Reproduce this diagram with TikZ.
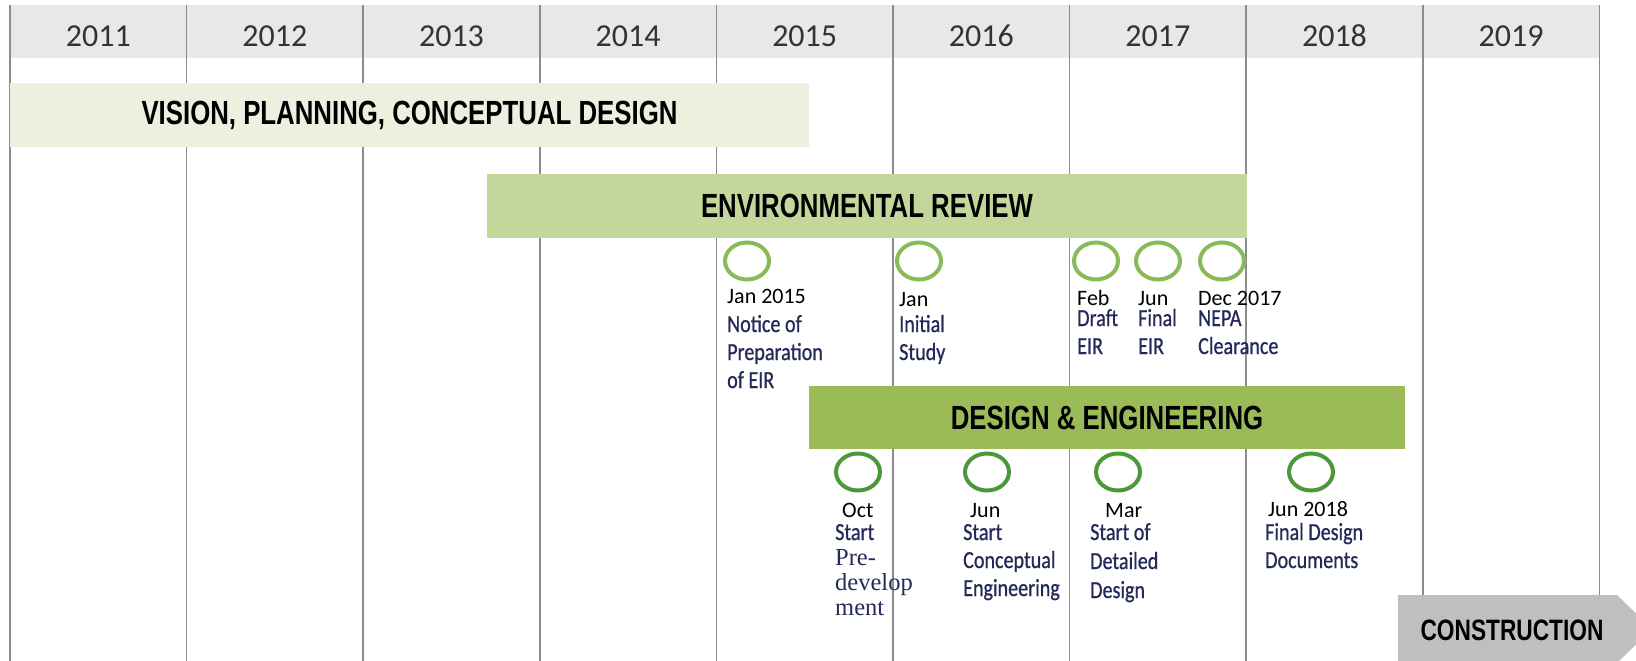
\documentclass[tikz,border=0pt]{standalone}
\usepackage{fontspec}
\setmainfont{Carlito}
\newfontfamily\yearfont{Carlito}
\newfontfamily\descfont{Carlito}[FakeStretch=0.82,FakeBold=0.8]
\newfontfamily\barfont{Liberation Sans}[FakeStretch=0.77]
\newfontfamily\serfont{Liberation Serif}
\usepackage{tikz}
\usetikzlibrary{positioning,shapes.geometric}
\definecolor{headgrey}{RGB}{231,232,234}
\definecolor{linegrey}{RGB}{140,140,140}
\definecolor{visiongreen}{RGB}{235,241,222}
\definecolor{envgreen}{RGB}{196,215,155}
\definecolor{designgreen}{RGB}{155,187,89}
\definecolor{ringlight}{RGB}{136,186,88}
\definecolor{ringdark}{RGB}{74,152,58}
\definecolor{descnavy}{RGB}{36,42,88}
\definecolor{constrgrey}{RGB}{191,191,191}

\begin{document}
\begin{tikzpicture}[
    x=1pt,
    y=-1pt,
    year/.style={
        inner sep=0pt,
        text=black!80,
        font=\yearfont\fontsize{32}{36}\selectfont
    },
    yearline/.style={
        linegrey,
        line width=1.5pt
    },
    phase/.style={
        inner sep=0pt,
        text=black,
        font=\barfont\bfseries\fontsize{33.5}{36}\selectfont
    },
    envmile/.style={
        ellipse,
        draw=ringlight,
        line width=4pt,
        minimum width=44pt,
        minimum height=37pt,
        inner sep=0pt
    },
    designmile/.style={
        envmile,
        draw=ringdark
    },
    datetext/.style={
        anchor=base west,
        inner sep=0pt,
        text=black,
        font=\fontsize{22}{26}\selectfont
    },
    % base of a multi-line text = baseline of its last line
    desctext/.style={
        anchor=base west,
        inner sep=0pt,
        align=left,
        text=descnavy,
        font=\descfont\fontsize{24.5}{28}\selectfont
    }
]

\useasboundingbox (0,0) rectangle (1636,661);

% ============================================================
% YEAR HEADER AND COLUMNS
% ============================================================

\fill[headgrey] (10,5) rectangle (1599,58);

\draw[yearline] (10,5)     -- (10,661);
\draw[yearline] (186.6,5)  -- (186.6,661);
\draw[yearline] (363.2,5)  -- (363.2,661);
\draw[yearline] (539.8,5)  -- (539.8,661);
\draw[yearline] (716.4,5)  -- (716.4,661);
\draw[yearline] (893,5)    -- (893,661);
\draw[yearline] (1069.6,5) -- (1069.6,661);
\draw[yearline] (1246.2,5) -- (1246.2,661);
\draw[yearline] (1422.8,5) -- (1422.8,661);
\draw[yearline] (1599.4,5) -- (1599.4,661);

\node[year] (y2011) at (98.3,36)   {2011};
\node[year] (y2012) at (274.9,36)  {2012};
\node[year] (y2013) at (451.5,36)  {2013};
\node[year] (y2014) at (628.1,36)  {2014};
\node[year] (y2015) at (804.7,36)  {2015};
\node[year] (y2016) at (981.3,36)  {2016};
\node[year] (y2017) at (1157.9,36) {2017};
\node[year] (y2018) at (1334.5,36) {2018};
\node[year] (y2019) at (1511.1,36) {2019};

% ============================================================
% PHASE BARS
% ============================================================

\node[phase, fill=visiongreen, minimum width=799pt, minimum height=64pt]
(visionbar) at (409.5,115)
{VISION, PLANNING, CONCEPTUAL DESIGN};

\node[phase, fill=envgreen, minimum width=760pt, minimum height=64pt]
(envbar) at (867,206)
{ENVIRONMENTAL REVIEW};

\node[phase, fill=designgreen, minimum width=596pt, minimum height=63pt]
(designbar) at (1107,417.5)
{DESIGN \& ENGINEERING};

% construction arrow runs off the right edge
\begin{scope}
\clip (0,0) rectangle (1636,661);
\fill[constrgrey] (1398,595) -- (1617,595) -- (1652,629)
    -- (1617,663) -- (1398,663) -- cycle;
\end{scope}

\node[phase, font=\barfont\bfseries\fontsize{29.5}{32}\selectfont]
(constr) at (1512,630)
{CONSTRUCTION};

% ============================================================
% ENVIRONMENTAL MILESTONES
% ============================================================

\node[envmile] (nopring)  at (747,261)  {};
\node[envmile] (isring)   at (919,261)  {};
\node[envmile] (deirring) at (1096,261) {};
\node[envmile] (feirring) at (1158,261) {};
\node[envmile] (nepring)  at (1222,261) {};

\node[datetext] (nopdate) at (727,303) {Jan 2015};
\node[desctext] (nop) at (727,388) {Notice of\\Preparation\\of EIR};

\node[datetext] (isdate) at (899,306) {Jan};
\node[desctext] (is) at (899,360) {Initial\\Study};

\node[datetext] (deirdate) at (1077,305) {Feb};
\node[desctext] (deir) at (1077,354) {Draft\\EIR};

\node[datetext] (feirdate) at (1138,305) {Jun};
\node[desctext] (feir) at (1138,354) {Final\\EIR};

\node[datetext] (nepdate) at (1198,305) {Dec 2017};
\node[desctext] (nep) at (1198,354) {NEPA\\Clearance};

% ============================================================
% DESIGN MILESTONES
% ============================================================

\node[designmile] (prering) at (858,472)  {};
\node[designmile] (cering)  at (987,472)  {};
\node[designmile] (ddring)  at (1118,472) {};
\node[designmile] (fddring) at (1311,472) {};

\node[datetext] (predate) at (842,517) {Oct};
\node[desctext, font=\descfont\fontsize{24.5}{25}\selectfont] (pre) at (835,615)
{Start\\{\serfont Pre-}\\{\serfont develop}\\{\serfont ment}};

\node[datetext] (cedate) at (970,517) {Jun};
\node[desctext] (ce) at (963,596) {Start\\Conceptual\\Engineering};

\node[datetext] (dddate) at (1105,517) {Mar};
\node[desctext, font=\descfont\fontsize{24.5}{29}\selectfont] (dd) at (1090,598)
{Start of\\Detailed\\Design};

\node[datetext] (fdddate) at (1268,516) {Jun 2018};
\node[desctext] (fdd) at (1265,568) {Final Design\\Documents};

\end{tikzpicture}
\end{document}
